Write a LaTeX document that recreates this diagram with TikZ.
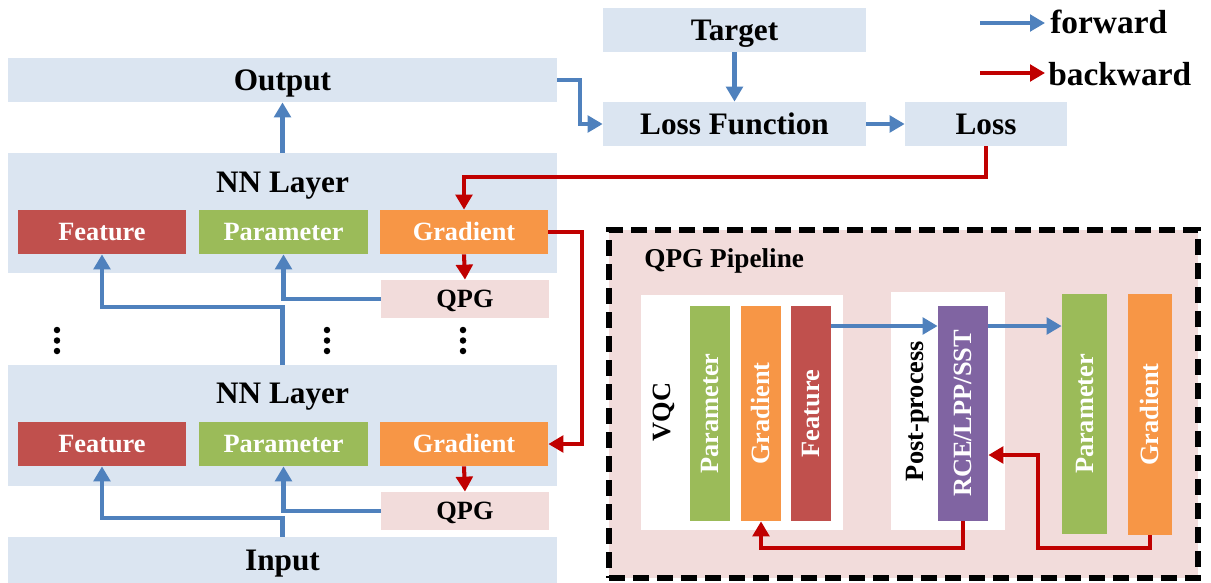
\documentclass[tikz,border=0pt]{standalone}
\usepackage{fontspec}
\setmainfont{Liberation Serif}
\usetikzlibrary{arrows.meta}
\definecolor{boxblue}{HTML}{DBE5F1}
\definecolor{featred}{HTML}{C0504D}
\definecolor{pargreen}{HTML}{9BBB59}
\definecolor{gradorange}{HTML}{F79646}
\definecolor{qpgpink}{HTML}{F2DCDB}
\definecolor{postpurple}{HTML}{8064A2}
\definecolor{fwdblue}{HTML}{4F81BD}
\definecolor{backred}{HTML}{C00000}
\tikzset{fwd/.style = {draw=fwdblue, line width=2.3pt,
                       -{Triangle[width=0.33cm, length=0.3cm]}},
         back/.style = {draw=backred, line width=2.3pt,
                        -{Triangle[width=0.33cm, length=0.3cm]}},
         plain/.style = {fill=boxblue, inner sep=0pt, text height=11.6pt, text depth=0pt,
                         font=\bfseries\fontsize{17.8}{20}\selectfont},
         title/.style = {inner sep=0pt, font=\bfseries\fontsize{17.8}{20}\selectfont},
         cell/.style = {inner sep=0pt, text=white, minimum width=3.36cm,
                        minimum height=0.88cm, text height=9.8pt, text depth=0pt,
                        font=\bfseries\fontsize{15}{17}\selectfont},
         qpg/.style = {fill=qpgpink, inner sep=0pt, minimum width=3.36cm,
                       minimum height=0.76cm, text height=9.8pt, text depth=0pt,
                       font=\bfseries\fontsize{15}{17}\selectfont},
         bar/.style = {inner sep=0pt, minimum height=4.3cm},
         vtext/.style = {rotate=90, inner sep=0pt, text=white,
                         text height=9.8pt, text depth=0pt,
                         font=\bfseries\fontsize{15}{17}\selectfont},
         vtitle/.style = {rotate=90, inner sep=0pt,
                          font=\bfseries\fontsize{15}{17}\selectfont},
         legend/.style = {inner sep=0pt, font=\bfseries\fontsize{19}{21}\selectfont}}

\begin{document}
\begin{tikzpicture}[x=0.02cm, y=-0.02cm]
    \useasboundingbox (0,0) rectangle (1211,582);

    % network stack
    \node[plain, minimum width=10.98cm, minimum height=0.88cm] (out) at (282.5,80) {Output};
    \node[plain, minimum width=10.98cm, minimum height=2.4cm] (layerA) at (282.5,213) {};
    \node[title, anchor=base] (titleA) at (282.5,192) {NN Layer};
    \node[cell, fill=featred] (featA) at (102,232) {Feature};
    \node[cell, fill=pargreen, minimum width=3.38cm] (parA) at (283.5,232) {Parameter};
    \node[cell, fill=gradorange] (gradA) at (464,232) {Gradient};
    \node[qpg] (qpgA) at (465,299) {QPG};

    \node[plain, minimum width=10.98cm, minimum height=2.42cm] (layerB) at (282.5,425.5) {};
    \node[title, anchor=base] (titleB) at (282.5,403) {NN Layer};
    \node[cell, fill=featred] (featB) at (102,444) {Feature};
    \node[cell, fill=pargreen, minimum width=3.38cm] (parB) at (283.5,444) {Parameter};
    \node[cell, fill=gradorange] (gradB) at (464,444) {Gradient};
    \node[qpg] (qpgB) at (465,511) {QPG};
    \node[plain, minimum width=10.98cm, minimum height=0.92cm] (input) at (282.5,560) {Input};

    \foreach \x in {57,327,463}
      \foreach \y in {330,340.5,351}
        \fill (\x,\y) circle (0.065cm);

    % loss
    \node[plain, minimum width=5.26cm, minimum height=0.88cm] (target) at (734.5,30) {Target};
    \node[plain, minimum width=5.26cm, minimum height=0.88cm] (lossfn) at (734.5,124) {Loss Function};
    \node[plain, minimum width=3.24cm, minimum height=0.88cm] (loss) at (986,124) {Loss};

    % legend
    \coordinate (fwdA) at (980,23);
    \coordinate (fwdB) at (1045,23);
    \coordinate (backA) at (980,73);
    \coordinate (backB) at (1045,73);
    \draw[fwd] (fwdA) -- (fwdB);
    \draw[back] (backA) -- (backB);
    \node[legend, anchor=base west] (fwdtxt) at (1050,33) {forward};
    \node[legend, anchor=base west] (backtxt) at (1048,85) {backward};

    % forward and backward flow
    \draw[fwd] (layerA.north) -- (out.south);
    \draw[fwd] (out.east) -- ++(23,0) |- (lossfn.west);
    \draw[fwd] (target.south) -- (lossfn.north);
    \draw[fwd] (lossfn.east) -- (loss.west);
    \draw[back] (loss.south) -- ++(0,31) -| (gradA.north);
    \draw[back] (gradA.east) -- ++(34,0) |- (gradB.east);
    \draw[back] (gradA.south) -- (qpgA.north);
    \draw[back] (gradB.south) -- (qpgB.north);
    \draw[fwd] (qpgA.west) -| (parA.south);
    \draw[fwd] (qpgB.west) -| (parB.south);
    \draw[fwd] (layerB.north) -- ++(0,-58) -| (featA.south);
    \draw[fwd] (input.north) -- ++(0,-19) -| (featB.south);

    % QPG pipeline
    \node[fill=qpgpink, draw=black, line width=3pt, dash pattern=on 0.32cm off 0.16cm,
          minimum width=11.78cm, minimum height=6.96cm, inner sep=0pt] (pipe) at (903.5,404) {};
    \node[title, anchor=base west, font=\bfseries\fontsize{15.5}{17}\selectfont] (pipetxt) at (644,267) {QPG Pipeline};
    \node[fill=white, inner sep=0pt, minimum width=4.04cm, minimum height=4.7cm] (vqc) at (742,412.5) {};
    \node[vtitle, anchor=base] (vqctxt) at (670,412) {VQC};
    \node[bar, fill=pargreen, minimum width=0.8cm, label={[vtext]center:Parameter}] (vpar) at (710,413.5) {};
    \node[bar, fill=gradorange, minimum width=0.8cm, label={[vtext]center:Gradient}] (vgrad) at (761,413.5) {};
    \node[bar, fill=featred, minimum width=0.8cm, label={[vtext]center:Feature}] (vfeat) at (811,413.5) {};
    \node[fill=white, inner sep=0pt, minimum width=2.28cm, minimum height=4.76cm] (post) at (948,411) {};
    \node[vtitle, anchor=base] (posttxt) at (923,411) {Post-process};
    \node[bar, fill=postpurple, minimum width=1cm, label={[vtext]center:RCE/LPP/SST}] (rce) at (963,413.5) {};
    \node[bar, fill=pargreen, minimum width=0.9cm, minimum height=4.8cm, label={[vtext]center:Parameter}] (rpar) at (1084.5,414) {};
    \node[bar, fill=gradorange, minimum width=0.88cm, minimum height=4.82cm, label={[vtext]center:Gradient}] (rgrad) at (1150,414.5) {};

    \coordinate (fwdrow) at (0,326);
    \coordinate (backrow) at (0,455);
    \coordinate (bendB) at (1038,548);
    \draw[fwd] (vfeat.east |- fwdrow) -- (rce.west |- fwdrow);
    \draw[fwd] (rce.east |- fwdrow) -- (rpar.west |- fwdrow);
    \draw[back] (rce.south) -- ++(0,27) -| (vgrad.south);
    \draw[back] (rgrad.south) |- (bendB) |- (rce.east |- backrow);
\end{tikzpicture}
\end{document}
